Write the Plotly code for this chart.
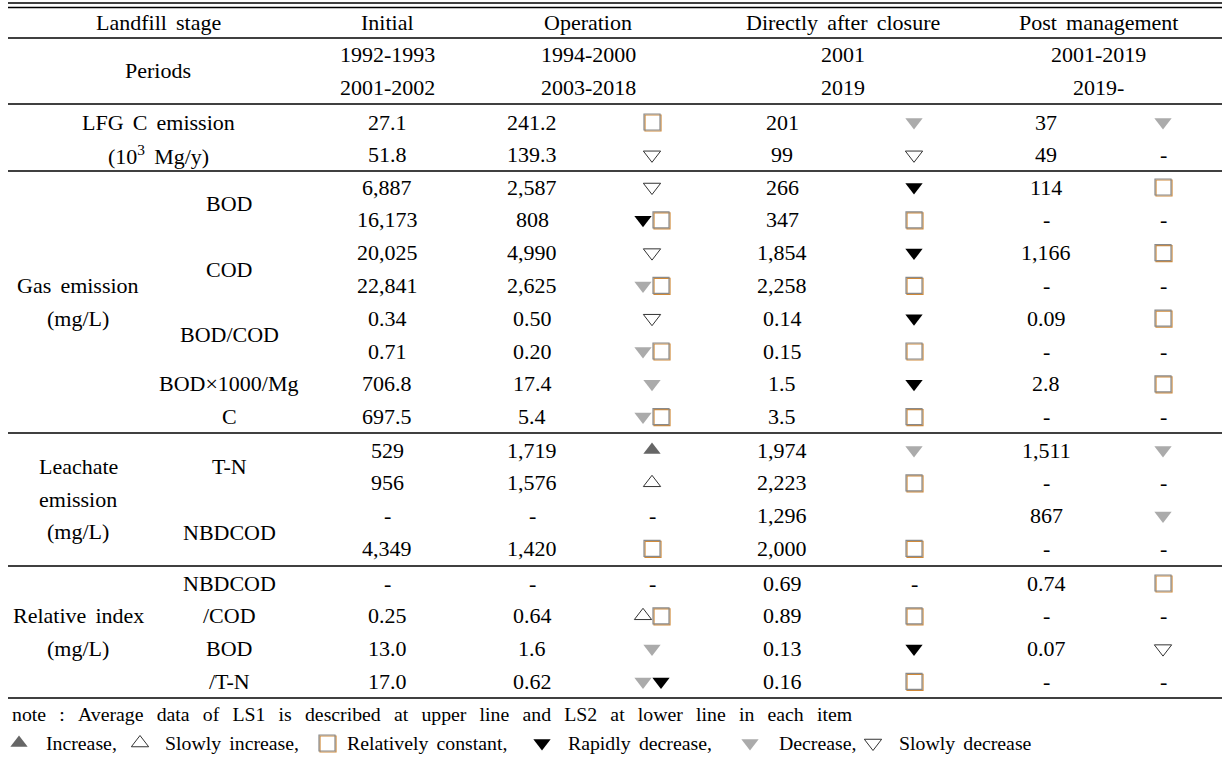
import plotly.graph_objects as go

# ---------------- data ----------------
stage_header = "Landfill stage"
stages = ["Initial", "Operation", "Directly after closure", "Post management"]
period_label = "Periods"
periods_ls1 = ["1992-1993", "1994-2000", "2001", "2001-2019"]
periods_ls2 = ["2001-2002", "2003-2018", "2019", "2019-"]

group_labels = [
    ["LFG C emission", "(10<sup>3</sup> Mg/y)"],
    ["Gas emission", "(mg/L)"],
    ["Leachate", "emission", "(mg/L)"],
    ["Relative index", "(mg/L)"],
]
sub_labels = [
    [],
    [["BOD"], ["COD"], ["BOD/COD"], ["BOD×1000/Mg", "C"]],
    [["T-N"], ["NBDCOD"]],
    [["NBDCOD", "/COD"], ["BOD", "/T-N"]],
]
rows_per_group = [2, 8, 4, 4]

initial_vals = ["27.1", "51.8",
                "6,887", "16,173", "20,025", "22,841", "0.34", "0.71", "706.8", "697.5",
                "529", "956", "-", "4,349",
                "-", "0.25", "13.0", "17.0"]
operation_vals = ["241.2", "139.3",
                  "2,587", "808", "4,990", "2,625", "0.50", "0.20", "17.4", "5.4",
                  "1,719", "1,576", "-", "1,420",
                  "-", "0.64", "1.6", "0.62"]
operation_trend = ["C", "SD",
                   "SD", "RD+C", "SD", "D+C", "SD", "D+C", "D", "D+C",
                   "I", "SI", "-", "C",
                   "-", "SI+C", "D", "D+RD"]
closure_vals = ["201", "99",
                "266", "347", "1,854", "2,258", "0.14", "0.15", "1.5", "3.5",
                "1,974", "2,223", "1,296", "2,000",
                "0.69", "0.89", "0.13", "0.16"]
closure_trend = ["D", "SD",
                 "RD", "C", "RD", "C", "RD", "C", "RD", "C",
                 "D", "C", "", "C",
                 "-", "C", "RD", "C"]
post_vals = ["37", "49",
             "114", "-", "1,166", "-", "0.09", "-", "2.8", "-",
             "1,511", "-", "867", "-",
             "0.74", "-", "0.07", "-"]
post_trend = ["D", "-",
              "C", "-", "C", "-", "C", "-", "C", "-",
              "D", "-", "D", "-",
              "C", "-", "SD", "-"]

note_text = "note : Average data of LS1 is described at upper line and LS2 at lower line in each item"
legend_codes = ["I", "SI", "C", "RD", "D", "SD"]
legend_texts = ["Increase,", "Slowly increase,", "Relatively constant,",
                "Rapidly decrease,", "Decrease,", "Slowly decrease"]

# ---------------- layout constants ----------------
W, H = 1225, 770
FONT = "Liberation Serif, Times New Roman, serif"
FS = 22
FS_NOTE = 19.8
NB = "\u00a0"
GAP = NB + "\u2006"

def sp(t, gap=GAP):
    return t.replace(" ", gap)

X_LABEL = 158
X_GROUP = 78
X_SUB = 229
X_INIT = 387
X_OPV = 532
X_OPS = 652
X_CLV = 782
X_CLS = 914
X_PSV = 1046
X_PSS = 1163
X_HDR = [387, 588, 843, 1098]
PAIR_DX = 9

Y_HDR = 22
Y_PER = [54, 87]
GROUP_Y0 = [122, 187, 450, 583]
STEP = 32.8
LINES_Y = [38, 104, 171, 433, 566, 698]
TOP_LINES = [3, 7.5]
LX0, LX1 = 8, 1222
Y_NOTE = 714
Y_LEG = 743

SYMBOL_STYLE = {
    "I": dict(symbol="triangle-up", color="#666666", line=dict(width=0, color="#666666"), size=15),
    "SI": dict(symbol="triangle-up-open", color="#333333", line=dict(width=1, color="#333333"), size=15),
    "RD": dict(symbol="triangle-down", color="#000000", line=dict(width=0, color="#000000"), size=15),
    "D": dict(symbol="triangle-down", color="#ababab", line=dict(width=0, color="#ababab"), size=15),
    "SD": dict(symbol="triangle-down-open", color="#333333", line=dict(width=1, color="#333333"), size=15),
}

fig = go.Figure()
annotations = []
shapes = []

def txt(x, y, t, anchor="center", size=FS):
    annotations.append(dict(x=x, y=y, xref="x", yref="y", text=t, showarrow=False,
                            xanchor=anchor, yanchor="middle",
                            font=dict(family=FONT, size=size, color="#000000")))

txt(X_LABEL, Y_HDR, sp(stage_header))
for xh, s in zip(X_HDR, stages):
    txt(xh, Y_HDR, sp(s))
txt(X_LABEL, (Y_PER[0] + Y_PER[1]) / 2, period_label)
for xh, a, b in zip(X_HDR, periods_ls1, periods_ls2):
    txt(xh, Y_PER[0], a)
    txt(xh, Y_PER[1], b)

row_y = []
for g0, n in zip(GROUP_Y0, rows_per_group):
    row_y += [g0 + STEP * k for k in range(n)]

for gi, (labs, g0, n) in enumerate(zip(group_labels, GROUP_Y0, rows_per_group)):
    ys = [g0 + STEP * k for k in range(n)]
    xg = X_LABEL if gi == 0 else X_GROUP
    if gi == 0:
        for k, l in enumerate(labs):
            txt(xg, ys[k], sp(l))
    else:
        mid = (ys[0] + ys[-1]) / 2
        lh = 32.5
        off = (len(labs) - 1) / 2
        for k, l in enumerate(labs):
            txt(xg, mid + (k - off) * lh, sp(l))
    for si, sl in enumerate(sub_labels[gi]):
        y1, y2 = ys[2 * si], ys[2 * si + 1]
        if len(sl) == 1:
            txt(X_SUB, (y1 + y2) / 2, sl[0])
        else:
            txt(X_SUB, y1, sl[0])
            txt(X_SUB, y2, sl[1])

for i, y in enumerate(row_y):
    txt(X_INIT, y, initial_vals[i])
    txt(X_OPV, y, operation_vals[i])
    txt(X_CLV, y, closure_vals[i])
    txt(X_PSV, y, post_vals[i])

sym_pts = {k: ([], []) for k in ["I", "SI", "C", "RD", "D", "SD"]}

def place_trend(code, xc, y):
    if code == "":
        return
    if code == "-":
        txt(xc, y, "-")
        return
    parts = code.split("+")
    xs = [xc] if len(parts) == 1 else [xc - PAIR_DX, xc + PAIR_DX]
    for p, xx in zip(parts, xs):
        sym_pts[p][0].append(xx)
        sym_pts[p][1].append(y)

for i, y in enumerate(row_y):
    place_trend(operation_trend[i], X_OPS, y)
    place_trend(closure_trend[i], X_CLS, y)
    place_trend(post_trend[i], X_PSS, y)

LEG_SYM_X = [19, 140, 327, 542, 750, 873]
LEG_TXT_X = [44, 163, 345, 566, 777, 897]
for code, xs, xt, t in zip(legend_codes, LEG_SYM_X, LEG_TXT_X, legend_texts):
    sym_pts[code][0].append(xs)
    sym_pts[code][1].append(Y_LEG)
    txt(xt, Y_LEG, sp(t, NB + "\u2006"), anchor="left", size=FS_NOTE)

txt(10, Y_NOTE, sp(note_text, NB * 2 + "\u2006"), anchor="left", size=FS_NOTE)

for code, (xs, ys) in sym_pts.items():
    if not xs:
        continue
    if code == "C":
        fig.add_trace(go.Scatter(x=[v + 1 for v in xs], y=[v + 1 for v in ys], mode="markers",
                                 marker=dict(symbol="square-open", size=16, color="#d08a3a",
                                             line=dict(width=1.2, color="#d08a3a")),
                                 hoverinfo="skip", showlegend=False))
        fig.add_trace(go.Scatter(x=xs, y=ys, mode="markers",
                                 marker=dict(symbol="square-open", size=16, color="#8a8a8a",
                                             line=dict(width=1.2, color="#8a8a8a")),
                                 hoverinfo="skip", showlegend=False))
    else:
        st = SYMBOL_STYLE[code]
        fig.add_trace(go.Scatter(x=xs, y=ys, mode="markers",
                                 marker=dict(symbol=st["symbol"], size=st["size"], color=st["color"],
                                             line=st["line"]),
                                 hoverinfo="skip", showlegend=False))

for yl in TOP_LINES + LINES_Y:
    shapes.append(dict(type="line", xref="x", yref="y", x0=LX0, x1=LX1, y0=yl, y1=yl,
                       line=dict(color="#000000", width=1.4)))

fig.update_layout(
    width=W, height=H,
    margin=dict(l=0, r=0, t=0, b=0),
    paper_bgcolor="white", plot_bgcolor="white",
    xaxis=dict(range=[0, W], visible=False, fixedrange=True),
    yaxis=dict(range=[H, 0], visible=False, fixedrange=True),
    annotations=annotations, shapes=shapes,
    showlegend=False,
)

fig.write_html("out.html", config={"displayModeBar": False},
               post_script="document.body.style.margin='0';document.body.style.overflow='hidden';")
